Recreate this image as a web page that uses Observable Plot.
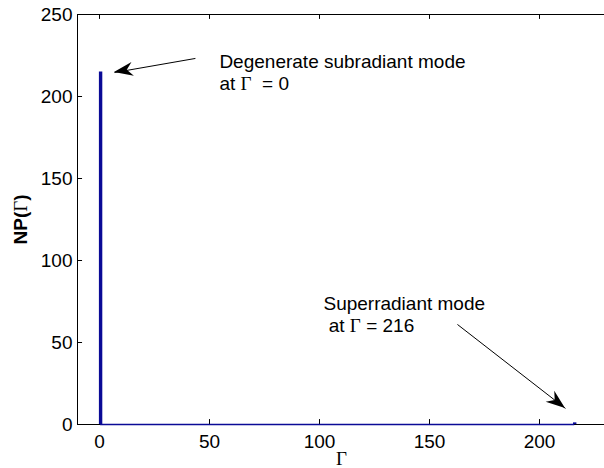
<!DOCTYPE html>
<html><head><meta charset="utf-8">
<script src="https://cdn.jsdelivr.net/npm/d3@7"></script>
<script src="https://cdn.jsdelivr.net/npm/@observablehq/plot@0.6"></script>
<style>
body{margin:0;background:#fff}
svg text{white-space:pre}
</style></head><body><div id="chart"></div>
<script>
// data
const gamma = [0.5, 216];
const np = [215, 1];
const xTicks = [0, 50, 100, 150, 200];
const yTicks = [0, 50, 100, 150, 200, 250];
const xDomain = [-10, 230];
const yDomain = [0, 250];
const noteX = [54.5, 101.8];
const noteY = [227, 79.6];
const noteText = ["Degenerate subradiant mode\nat Γ  = 0", "Superradiant mode\n at Γ = 216"];
const arrowX1 = [43.6, 162.7];
const arrowY1 = [223.2, 61];
const arrowX2 = [6.8, 211.8];
const arrowY2 = [214.6, 9.8];

const modes = gamma.map((g, i) => ({gamma: g, np: np[i]}));
const notes = noteText.map((t, i) => ({x: noteX[i], y: noteY[i], text: t}));
const arrows = arrowX1.map((x, i) => ({x1: x, y1: arrowY1[i], x2: arrowX2[i], y2: arrowY2[i]}));
const blue = "#0a0a96";

const chart = Plot.plot({
  width: 604, height: 468,
  marginLeft: 77, marginTop: 14, marginBottom: 44, marginRight: 0,
  x: {domain: xDomain, range: [77, 605]},
  y: {domain: yDomain, range: [424, 14]},
  style: {fontFamily: "'Liberation Sans', Arial, sans-serif", fontSize: "19px", background: "white", color: "black"},
  marks: [
    Plot.ruleY([0], {x1: xDomain[0], x2: xDomain[1], stroke: "black"}),
    Plot.ruleY([yDomain[1]], {x1: xDomain[0], x2: xDomain[1], stroke: "black"}),
    Plot.ruleX([xDomain[0]], {y1: yDomain[0], y2: yDomain[1], stroke: "black"}),
    Plot.ruleX(xTicks, {y1: 0, y2: 3, stroke: "black"}),
    Plot.ruleX(xTicks, {y1: 250, y2: 247, stroke: "black"}),
    Plot.ruleY(yTicks, {x1: -10, x2: -7.7, stroke: "black"}),
    Plot.ruleY([0], {x1: gamma[0], x2: gamma[1], stroke: blue, strokeWidth: 1.6}),
    Plot.ruleX(modes, {x: "gamma", y1: 0, y2: "np", stroke: blue, strokeWidth: 3.4}),
    Plot.axisX({ticks: xTicks, tickSize: 0, tickPadding: 10, fontSize: 19, label: null}),
    Plot.axisY({ticks: yTicks, tickSize: 0, tickPadding: 5, fontSize: 19, label: null}),
    Plot.link(arrows, {x1: "x1", y1: "y1", x2: "x2", y2: "y2", stroke: "black", strokeWidth: 1}),
    Plot.text(notes, {x: "x", y: "y", text: "text", textAnchor: "start", lineAnchor: "top", lineHeight: 1.16, fontSize: 19}),
    Plot.text([{x: 110, y: -21}], {x: "x", y: "y", text: () => "Γ", fontSize: 19, lineAnchor: "middle", fontFamily: "'Liberation Serif', 'Times New Roman', serif"}),
    Plot.text([{x: -35.9, y: 125}], {x: "x", y: "y", text: () => "NP(Γ)", fontSize: 19, fontWeight: "bold", rotate: -90, lineAnchor: "middle"})
  ]
});

// serif Gamma glyphs
const svgns = "http://www.w3.org/2000/svg";
(function serifGamma(root) {
  const walker = document.createTreeWalker(root, NodeFilter.SHOW_TEXT);
  const nodes = [];
  while (walker.nextNode()) if (walker.currentNode.nodeValue.includes("Γ")) nodes.push(walker.currentNode);
  for (const n of nodes) {
    const parts = n.nodeValue.split("Γ");
    const frag = document.createDocumentFragment();
    parts.forEach((p, i) => {
      if (i > 0) {
        const t = document.createElementNS(svgns, "tspan");
        t.setAttribute("font-family", "'Liberation Serif', 'Times New Roman', serif");
        t.setAttribute("font-weight", "normal");
        t.textContent = "Γ";
        frag.appendChild(t);
      }
      if (p) frag.appendChild(document.createTextNode(p));
    });
    n.parentNode.replaceChild(frag, n);
  }
})(chart);

// filled arrowheads placed through the chart's scales
const sx = chart.scale("x"), sy = chart.scale("y");
const g = d3.select(chart).append("g");
for (const a of arrows) {
  const X1 = sx.apply(a.x1), Y1 = sy.apply(a.y1), X2 = sx.apply(a.x2), Y2 = sy.apply(a.y2);
  const ang = Math.atan2(Y2 - Y1, X2 - X1);
  const L = 19, W = 7, N = 13;
  const c = Math.cos(ang), s = Math.sin(ang);
  const pt = (u, v) => [X2 + u * c - v * s, Y2 + u * s + v * c];
  const pts = [pt(0, 0), pt(-L, -W), pt(-N, 0), pt(-L, W)];
  g.append("path").attr("d", "M" + pts.map(p => p.join(",")).join("L") + "Z").attr("fill", "black");
}

document.getElementById("chart").appendChild(chart);
</script></body></html>
